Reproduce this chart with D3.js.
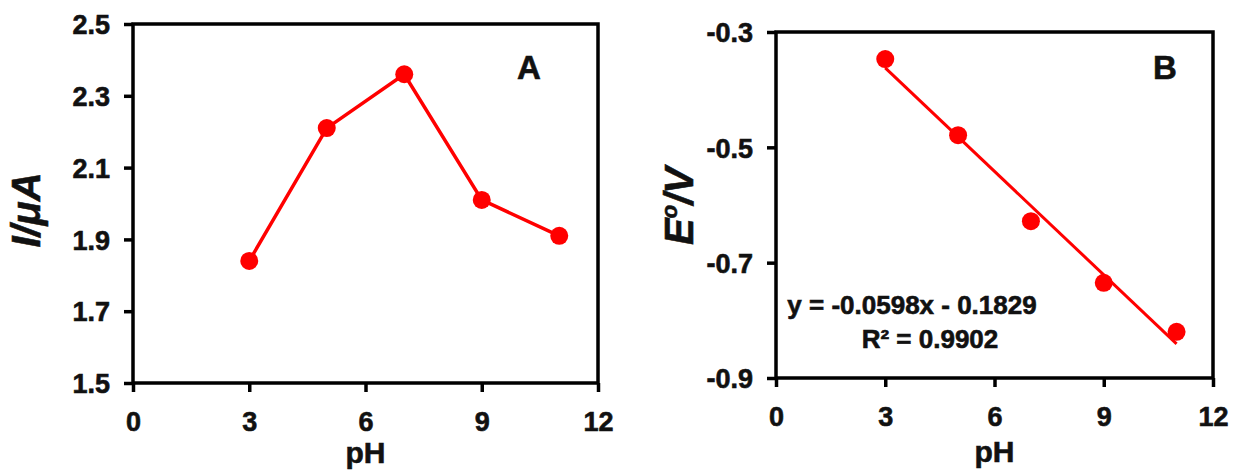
<!DOCTYPE html>
<html>
<head>
<meta charset="utf-8">
<script src="https://cdn.jsdelivr.net/npm/d3@7"></script>
<style>
  body { margin: 0; background: #fff; }
  svg { display: block; font-family: "Liberation Sans", Arial, sans-serif; font-weight: bold; }
  svg text { stroke: #111; stroke-width: 0.6px; }
</style>
</head>
<body>
<figure id="ph" style="margin:0"></figure>
<script>
// pH study: peak current (A) and formal potential (B)
const phValues = [3, 5, 7, 9, 11];
const currentValues = [1.84, 2.21, 2.36, 2.01, 1.91];
const potentialValues = [-0.347, -0.479, -0.628, -0.735, -0.820];
const fitSlope = -0.0598;
const fitIntercept = -0.1829;
const xTicks = [0, 3, 6, 9, 12];
const yTicksA = [1.5, 1.7, 1.9, 2.1, 2.3, 2.5];
const yTicksB = [-0.9, -0.7, -0.5, -0.3];

const red = "#ff0000";
const ink = "#111";

const svg = d3.select("figure#ph").append("svg")
	.attr("width", 1240)
	.attr("height", 472);

// plain hyphen for negatives, like the original figure
const oneDecimal = (d) => d.toFixed(1);

function drawPanel(opts) {
	const x = d3.scaleLinear().domain([0, 12]).range([opts.left, opts.right]);
	const y = d3.scaleLinear().domain(opts.yDomain).range([opts.bottom, opts.top]);
	const g = svg.append("g");

	// frame
	g.append("rect")
		.attr("x", opts.left)
		.attr("y", opts.top)
		.attr("width", opts.right - opts.left)
		.attr("height", opts.bottom - opts.top)
		.attr("fill", "none")
		.attr("stroke", "#000")
		.attr("stroke-width", 3.5);

	const xAxis = g.append("g")
		.attr("transform", "translate(0," + opts.bottom + ")")
		.call(d3.axisBottom(x).tickValues(xTicks).tickSize(9).tickFormat((d) => String(d)));
	const yAxis = g.append("g")
		.attr("transform", "translate(" + opts.left + ",0)")
		.call(d3.axisLeft(y).tickValues(opts.yTicks).tickSize(9).tickPadding(14).tickFormat(oneDecimal));

	[xAxis, yAxis].forEach((ax) => {
		ax.attr("font-size", null).attr("font-family", null);
		ax.select(".domain").remove();
		ax.selectAll(".tick line").attr("stroke", "#000").attr("stroke-width", 3.5);
		ax.selectAll(".tick text")
			.attr("fill", ink)
			.style("font-size", "27px");
	});
	xAxis.selectAll(".tick text").attr("dy", 0).attr("y", 48);
	yAxis.selectAll(".tick text").attr("dy", "0.36em");

	// x title
	g.append("text")
		.attr("x", (opts.left + opts.right) / 2)
		.attr("y", opts.titleY)
		.attr("text-anchor", "middle")
		.style("font-size", "30px")
		.attr("fill", ink)
		.text("pH");

	// panel letter
	g.append("text")
		.attr("x", opts.letterX)
		.attr("y", opts.letterY)
		.attr("text-anchor", "middle")
		.style("font-size", "33px")
		.attr("fill", ink)
		.text(opts.letter);

	return { g, x, y };
}

// ---- panel A
const A = drawPanel({
	left: 133, right: 598, top: 24, bottom: 383, titleY: 463,
	yDomain: [1.5, 2.5], yTicks: yTicksA,
	letter: "A", letterX: 529, letterY: 79
});
const pointsA = phValues.map((p, i) => [p, currentValues[i]]);
A.g.append("path")
	.datum(pointsA)
	.attr("fill", "none")
	.attr("stroke", red)
	.attr("stroke-width", 3.5)
	.attr("d", d3.line().x((d) => A.x(d[0])).y((d) => A.y(d[1])));
A.g.selectAll(".dot")
	.data(pointsA)
	.enter()
	.append("circle")
	.attr("cx", (d) => A.x(d[0]))
	.attr("cy", (d) => A.y(d[1]))
	.attr("r", 9)
	.attr("fill", red);
A.g.append("text")
	.attr("transform", "translate(40,210) rotate(-90)")
	.attr("text-anchor", "middle")
	.style("font-size", "40px")
	.attr("font-style", "italic")
	.attr("fill", ink)
	.text("I/μA");

// ---- panel B
const B = drawPanel({
	left: 776, right: 1213, top: 32, bottom: 378, titleY: 462,
	yDomain: [-0.9, -0.3], yTicks: yTicksB,
	letter: "B", letterX: 1165, letterY: 79
});
const fitX = [d3.min(phValues), d3.max(phValues)];
B.g.append("path")
	.datum(fitX.map((p) => [p, fitSlope * p + fitIntercept]))
	.attr("fill", "none")
	.attr("stroke", red)
	.attr("stroke-width", 3)
	.attr("d", d3.line().x((d) => B.x(d[0])).y((d) => B.y(d[1])));
B.g.selectAll(".dot")
	.data(phValues.map((p, i) => [p, potentialValues[i]]))
	.enter()
	.append("circle")
	.attr("cx", (d) => B.x(d[0]))
	.attr("cy", (d) => B.y(d[1]))
	.attr("r", 9)
	.attr("fill", red);
const eLabel = B.g.append("text")
	.attr("transform", "translate(693,206) rotate(-90)")
	.attr("text-anchor", "middle")
	.style("font-size", "40px")
	.attr("font-style", "italic")
	.attr("fill", ink);
eLabel.append("tspan").text("E");
eLabel.append("tspan").style("font-size", "22px").attr("dy", -16).text("o");
eLabel.append("tspan").attr("dy", 16).text("/V");

B.g.append("text")
	.attr("x", 912)
	.attr("y", 314)
	.attr("text-anchor", "middle")
	.style("font-size", "26px")
	.attr("fill", ink)
	.text("y = -0.0598x - 0.1829");
B.g.append("text")
	.attr("x", 930)
	.attr("y", 348)
	.attr("text-anchor", "middle")
	.style("font-size", "26px")
	.attr("fill", ink)
	.text("R² = 0.9902");
</script>
</body>
</html>
